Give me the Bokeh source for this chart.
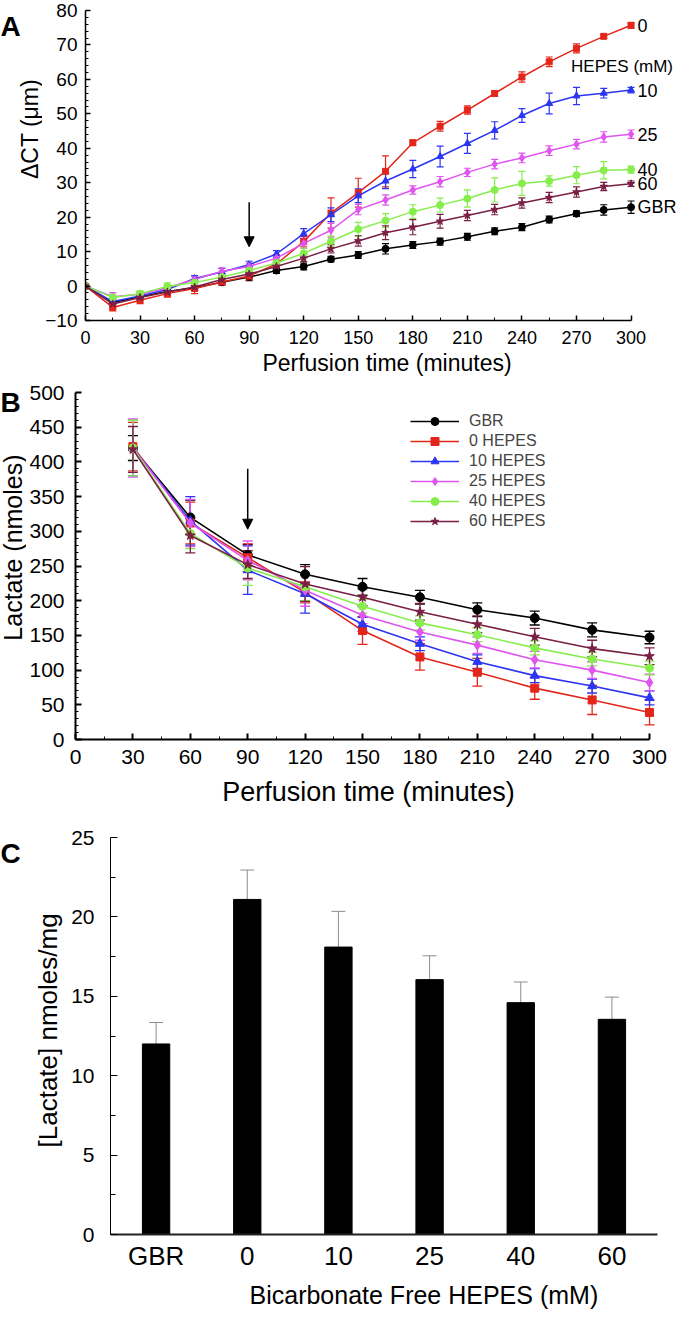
import numpy as np
from bokeh.plotting import figure
from bokeh.models import (ColumnDataSource, Whisker, TeeHead, Arrow, NormalHead, FixedTicker,
                          Legend, LegendItem, Title, FactorRange, Range1d)
from bokeh.layouts import column, row
from bokeh.embed import file_html
from bokeh.resources import INLINE
from bokeh.core.properties import value

FONT = "Liberation Sans"

# ---------------- Panel A data: delta CT (um) vs perfusion time ----------------
a_time = [0, 15, 30, 45, 60, 75, 90, 105, 120, 135, 150, 165, 180, 195, 210, 225, 240, 255, 270, 285, 300]
a_gbr = [0, -4.8, -3.1, -1.6, -0.5, 1.1, 2.6, 4.5, 5.7, 7.8, 9.0, 10.8, 11.9, 12.9, 14.3, 15.9, 17.1, 19.3, 21.0, 22.1, 22.9]
a_h0 = [0, -6.2, -4.1, -2.2, -0.7, 1.2, 2.9, 6.4, 12.9, 21.2, 27.1, 33.3, 41.6, 46.4, 51.1, 55.9, 60.7, 65.1, 69.0, 72.5, 75.7]
a_h10 = [0, -4.5, -2.9, -1.0, 2.2, 4.1, 6.2, 9.3, 15.2, 20.7, 26.2, 30.5, 34.0, 37.6, 41.4, 45.2, 49.5, 53.0, 55.2, 56.0, 56.9]
a_h25 = [0, -3.1, -2.4, -0.5, 1.9, 4.3, 5.7, 8.1, 12.4, 16.2, 22.2, 25.0, 27.9, 30.3, 33.0, 35.4, 37.2, 39.3, 41.2, 43.3, 44.1]
a_h40 = [0, -3.3, -2.2, -0.1, 1.0, 2.6, 4.5, 6.7, 9.5, 13.0, 16.5, 19.0, 21.6, 23.5, 25.4, 27.9, 29.8, 30.5, 32.2, 33.6, 33.8]
a_h60 = [0, -5.2, -3.3, -1.7, -0.3, 1.9, 3.5, 5.7, 8.1, 10.8, 13.1, 15.5, 17.1, 18.8, 20.5, 22.2, 24.1, 25.7, 27.3, 28.9, 29.7]
a_gbr_err = [0.5, 1, 0.8, 0.8, 0.8, 0.8, 1, 0.8, 1, 0.8, 1, 1.5, 1, 1, 1, 1, 1, 1, 0.8, 1.5, 1.8]
a_h0_err = [0.5, 1, 1, 1, 1.5, 1, 1.2, 1, 1.5, 4.4, 4.2, 4.5, 0.8, 1.4, 1.2, 0.8, 1.5, 1.4, 1.3, 0.6, 0.8]
a_h10_err = [0.5, 1, 0.8, 0.8, 0.8, 1, 1, 1, 1.5, 2, 2, 2.2, 2.5, 3, 2.9, 2.5, 2, 3, 2.5, 1.4, 0.8]
a_h25_err = [0.5, 1.2, 0.8, 0.8, 0.8, 1, 1, 1, 1.5, 2, 1.5, 1.5, 1.2, 1.5, 1.2, 1.4, 1.4, 1.4, 1.4, 1.5, 1.2]
a_h40_err = [0.5, 1, 0.8, 1, 0.8, 1, 1, 1, 1.5, 1.5, 2, 2, 2, 2, 2.5, 3.5, 3.5, 1.5, 2.5, 2.5, 1]
a_h60_err = [0.5, 1, 0.8, 0.8, 0.8, 1, 1, 1, 1, 1.2, 1.5, 2, 2.2, 2, 1.5, 1.5, 1.5, 1.5, 1.5, 1.2, 0.8]
a_end_labels = ["GBR", "0", "10", "25", "40", "60"]
a_x_ticks = [0, 30, 60, 90, 120, 150, 180, 210, 240, 270, 300]

# ---------------- Panel B data: lactate (nmoles) ----------------
b_time = [30, 60, 90, 120, 150, 180, 210, 240, 270, 300]
b_gbr = [420, 320, 266, 238, 220, 205, 187, 175, 158, 147]
b_h0 = [422, 312, 262, 212, 157, 119, 97, 74, 57, 39]
b_h10 = [420, 315, 244, 210, 166, 138, 112, 92, 77, 60]
b_h25 = [420, 312, 258, 215, 179, 155, 136, 115, 100, 82]
b_h40 = [420, 297, 247, 220, 192, 168, 151, 132, 116, 103]
b_h60 = [418, 294, 252, 224, 205, 184, 166, 148, 131, 120]
b_gbr_err = [18, 25, 15, 14, 12, 10, 10, 10, 10, 9]
b_h0_err = [35, 30, 20, 15, 20, 19, 20, 16, 21, 18]
b_h10_err = [40, 35, 35, 28, 10, 10, 10, 10, 10, 10]
b_h25_err = [42, 34, 28, 23, 12, 12, 12, 12, 12, 12]
b_h40_err = [40, 22, 25, 20, 10, 10, 10, 10, 10, 10]
b_h60_err = [33, 25, 20, 25, 12, 12, 12, 12, 12, 12]
b_legend = ["GBR", "0 HEPES", "10 HEPES", "25 HEPES", "40 HEPES", "60 HEPES"]

# ---------------- Panel C data: [lactate] nmoles/mg ----------------
c_cats = ["GBR", "0", "10", "25", "40", "60"]
c_vals = [12.0, 21.1, 18.1, 16.05, 14.6, 13.55]
c_err = [1.35, 1.85, 2.25, 1.5, 1.3, 1.4]

colors = ["#000000", "#e3261b", "#2b35f2", "#e055f0", "#86ee4c", "#7a1f44"]
markers = ["circle", "square", "triangle", "diamond", "circle", "star"]
a_sizes = [7, 6, 7, 8, 7, 8]
b_sizes = [9, 8, 9, 10, 8, 10]


def style_axis(ax, lab_size, title_size=None, lw=1.5):
    ax.axis_line_width = lw
    ax.axis_line_color = "black"
    ax.major_tick_line_color = "black"
    ax.minor_tick_line_color = "black"
    ax.major_tick_line_width = lw
    ax.major_label_text_font = FONT
    ax.major_label_text_font_size = lab_size
    ax.major_label_text_color = "black"
    ax.axis_label_text_font = FONT
    ax.axis_label_text_font_style = "normal"
    ax.axis_label_text_color = "black"
    if title_size:
        ax.axis_label_text_font_size = title_size


def base_fig(**kw):
    p = figure(output_backend="svg", toolbar_location=None, **kw)
    p.outline_line_color = None
    p.xgrid.visible = False
    p.ygrid.visible = False
    p.background_fill_color = "white"
    p.border_fill_color = "white"
    return p


def strip(w, h, letter, letter_y, letter_baseline, title, title_x, title_y, title_size):
    """Narrow left strip holding the panel letter and the rotated y-axis title."""
    s = figure(width=w, height=h, x_range=Range1d(0, w), y_range=Range1d(0, h),
               x_axis_type=None, y_axis_type=None, output_backend="svg", toolbar_location=None,
               min_border_left=0, min_border_right=0, min_border_top=0, min_border_bottom=0)
    s.outline_line_color = None
    s.background_fill_color = "white"
    s.border_fill_color = "white"
    s.text(x=[0], y=[letter_y], text=[letter], text_font=value(FONT), text_font_size="28px",
           text_font_style="bold", text_align="left", text_baseline=letter_baseline, text_color="black")
    s.text(x=[title_x], y=[title_y], text=[title], angle=np.pi / 2, text_font=value(FONT),
           text_font_size=title_size, text_align="center", text_baseline="middle", text_color="black")
    return s


# =================== Panel A ===================
HA = 382
pA = base_fig(width=648, height=HA, x_range=Range1d(0, 331.6), y_range=Range1d(-10, 80),
              min_border_left=38, min_border_right=2, min_border_top=10, min_border_bottom=62)
a_series = [a_gbr, a_h0, a_h10, a_h25, a_h40, a_h60]
a_errs = [a_gbr_err, a_h0_err, a_h10_err, a_h25_err, a_h40_err, a_h60_err]
for vals, errs, c, m, s in zip(a_series, a_errs, colors, markers, a_sizes):
    src = ColumnDataSource(dict(x=a_time, y=vals,
                                lo=[v - e for v, e in zip(vals, errs)],
                                hi=[v + e for v, e in zip(vals, errs)]))
    pA.line("x", "y", source=src, line_color=c, line_width=1.5)
    pA.add_layout(Whisker(base="x", upper="hi", lower="lo", source=src, line_color=c, line_width=1.2,
                          upper_head=TeeHead(size=7, line_color=c, line_width=1.2),
                          lower_head=TeeHead(size=7, line_color=c, line_width=1.2)))
    pA.scatter("x", "y", source=src, marker=m, size=s, fill_color=c, line_color=c)

pA.text(x=[303.5] * 6, y=[s[-1] for s in a_series], text=a_end_labels,
        text_font=value(FONT), text_font_size="18px", text_baseline="middle", text_align="left",
        text_color="black")
pA.text(x=[267.0], y=[a_h0[-1] - 12.0], text=["HEPES (mM)"], text_font=value(FONT),
        text_font_size="17px", text_baseline="middle", text_align="left", text_color="black")
pA.add_layout(Arrow(x_start=90, y_start=24.3, x_end=90, y_end=11.4, line_width=1.5,
                    end=NormalHead(size=10, fill_color="black", line_color="black")))

pA.xaxis.ticker = FixedTicker(ticks=a_x_ticks, minor_ticks=list(range(15, 300, 30)))
pA.xaxis.bounds = (0, 300)
pA.xaxis.axis_label = "Perfusion time (minutes)"
style_axis(pA.xaxis[0], "18px", "23px")
pA.xaxis.major_tick_in = 5
pA.xaxis.major_tick_out = 0
pA.xaxis.minor_tick_in = 3
pA.xaxis.minor_tick_out = 0
pA.xaxis.major_label_standoff = 10
pA.xaxis.axis_label_standoff = 3

pA.yaxis.ticker = FixedTicker(ticks=list(range(-10, 81, 10)),
                              minor_ticks=[v for v in range(-10, 81, 2) if v % 10])
style_axis(pA.yaxis[0], "19px")
pA.yaxis.major_tick_in = 5
pA.yaxis.major_tick_out = 0
pA.yaxis.minor_tick_in = 3
pA.yaxis.minor_tick_out = 0
pA.yaxis.major_label_standoff = 8
sA = strip(42, HA, "A", HA, "top", "\u0394CT (\u03bcm)", 29, 236, "23px")

# =================== Panel B ===================
HB = 435
pB = base_fig(width=664, height=HB, x_range=Range1d(0, 306.25), y_range=Range1d(0, 500),
              min_border_left=47, min_border_right=29, min_border_top=10, min_border_bottom=78)
b_series = [b_gbr, b_h0, b_h10, b_h25, b_h40, b_h60]
b_errs = [b_gbr_err, b_h0_err, b_h10_err, b_h25_err, b_h40_err, b_h60_err]
items = []
for vals, errs, c, m, s, name in zip(b_series, b_errs, colors, markers, b_sizes, b_legend):
    src = ColumnDataSource(dict(x=b_time, y=vals,
                                lo=[v - e for v, e in zip(vals, errs)],
                                hi=[v + e for v, e in zip(vals, errs)]))
    lr = pB.line("x", "y", source=src, line_color=c, line_width=1.6)
    pB.add_layout(Whisker(base="x", upper="hi", lower="lo", source=src, line_color=c, line_width=1.3,
                          upper_head=TeeHead(size=10, line_color=c, line_width=1.3),
                          lower_head=TeeHead(size=10, line_color=c, line_width=1.3)))
    sr = pB.scatter("x", "y", source=src, marker=m, size=s, fill_color=c, line_color=c)
    items.append(LegendItem(label=name, renderers=[lr, sr]))

legend = Legend(items=items, location=(335, 208), padding=0, margin=0, border_line_color=None,
                background_fill_alpha=0, label_text_font=FONT, label_text_font_size="16px",
                glyph_width=49, glyph_height=20, label_height=20, spacing=0, label_standoff=10)
pB.add_layout(legend)
pB.add_layout(Arrow(x_start=90, y_start=390, x_end=90, y_end=303, line_width=1.5,
                    end=NormalHead(size=10, fill_color="black", line_color="black")))

pB.xaxis.ticker = FixedTicker(ticks=a_x_ticks, minor_ticks=list(range(15, 300, 30)))
pB.xaxis.bounds = (0, 300)
pB.xaxis.axis_label = "Perfusion time (minutes)"
style_axis(pB.xaxis[0], "21px", "27px", lw=2)
pB.xaxis.major_tick_in = 6
pB.xaxis.major_tick_out = 0
pB.xaxis.minor_tick_in = 3
pB.xaxis.minor_tick_out = 0
pB.xaxis.major_label_standoff = 10
pB.xaxis.axis_label_standoff = 10

pB.yaxis.ticker = FixedTicker(ticks=list(range(0, 501, 50)),
                              minor_ticks=[v for v in range(0, 501, 10) if v % 50])
style_axis(pB.yaxis[0], "21px", lw=2)
pB.yaxis.major_tick_in = 6
pB.yaxis.major_tick_out = 0
pB.yaxis.minor_tick_in = 3
pB.yaxis.minor_tick_out = 0
pB.yaxis.major_label_standoff = 11
sB = strip(26, HB, "B", HB - 13, "middle", "Lactate  (nmoles)", 12.5, 245, "25px")

# =================== Panel C ===================
HC = 496
pC = base_fig(width=622, height=HC, x_range=FactorRange(factors=c_cats), y_range=Range1d(0, 25),
              min_border_left=42, min_border_right=33, min_border_top=20, min_border_bottom=76)
csrc = ColumnDataSource(dict(x=c_cats, top=c_vals, hi=[v + e for v, e in zip(c_vals, c_err)]))
pC.add_layout(Whisker(base="x", upper="hi", lower="top", source=csrc, line_color="#8c8c8c",
                      line_width=1, upper_head=TeeHead(size=14, line_color="#8c8c8c", line_width=1),
                      lower_head=None))
pC.vbar(x="x", top="top", width=0.3, source=csrc, fill_color="black", line_color="black")

pC.yaxis.ticker = FixedTicker(ticks=[0, 5, 10, 15, 20, 25], minor_ticks=[2.5, 7.5, 12.5, 17.5, 22.5])
style_axis(pC.yaxis[0], "21px", lw=1)
pC.yaxis.major_tick_in = 7
pC.yaxis.major_tick_out = 0
pC.yaxis.minor_tick_in = 5
pC.yaxis.minor_tick_out = 0
pC.yaxis.major_tick_line_width = 1
pC.yaxis.major_label_standoff = 16

style_axis(pC.xaxis[0], "26px", lw=2)
pC.xaxis.axis_line_color = "#222222"
pC.xaxis.major_tick_in = 0
pC.xaxis.major_tick_out = 0
pC.xaxis.major_label_standoff = 6
pC.add_layout(Title(text="Bicarbonate Free HEPES (mM)", align="left", offset=139,
                    text_font=FONT, text_font_size="25px", text_font_style="normal",
                    text_color="black"), "below")
sC = strip(68, HC, "C", HC - 20, "middle", "[Lactate] nmoles/mg", 47, 255, "26px")

layout = column(row(sA, pA, spacing=0), row(sB, pB, spacing=0), row(sC, pC, spacing=0), spacing=0)
open("out.html", "w").write(file_html(layout, INLINE))
